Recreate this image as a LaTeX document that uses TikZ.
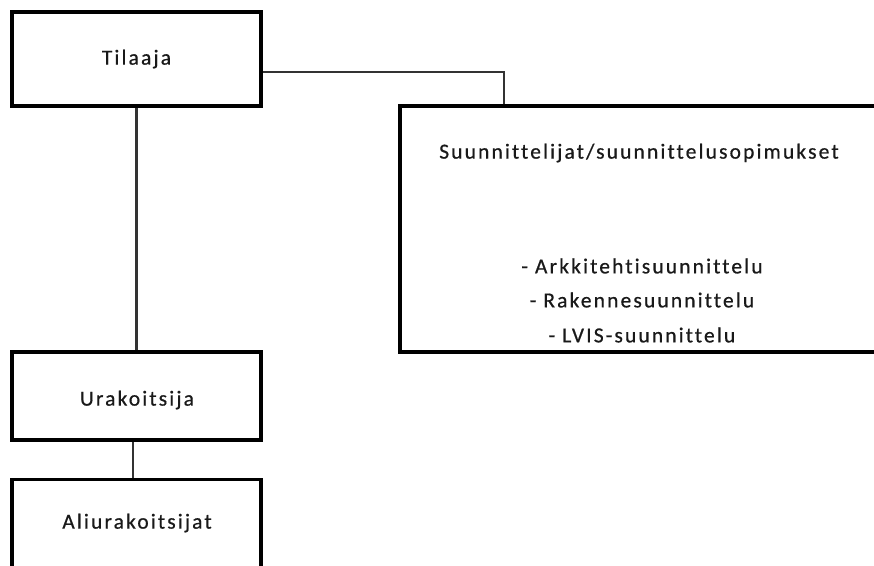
\documentclass[tikz,border=0pt]{standalone}
\usepackage{fontspec}
\setmainfont{Carlito}[LetterSpace=10,Ligatures={NoCommon},FakeBold=0.6]
\begin{document}
\begin{tikzpicture}[x=1pt,y=-1pt,
  box/.style={draw=black,line width=3.6pt,fill=white,inner sep=0pt},
  conn/.style={draw=black!80,line width=2.6pt},
  lbl/.style={inner sep=0pt,font=\fontsize{21.5}{26}\selectfont,text=black!90}]
\useasboundingbox (0,0) rectangle (874,565);
\clip (0,0) rectangle (874,565);
\node[box,minimum width=249pt,minimum height=94pt] (til) at (136.5,59) {};
\node[lbl] (tilt) at (til.center) {Tilaaja};
\node[box,minimum width=490pt,minimum height=246pt] (suu) at (645,229) {};
\node[lbl] (suut) at (639,153) {Suunnittelijat/suunnittelusopimukset};
\node[lbl] (ark) at (642,266) {- Arkkitehtisuunnittelu};
\node[lbl] (rak) at (642,300) {- Rakennesuunnittelu};
\node[lbl] (lvi) at (642,335) {- LVIS-suunnittelu};
\node[box,minimum width=249pt,minimum height=88pt] (ura) at (136.5,396) {};
\node[lbl] (urat) at (137,400) {Urakoitsija};
\node[box,minimum width=249pt,minimum height=95pt] (ali) at (136.5,527) {};
\node[lbl] (alit) at (137,523) {Aliurakoitsijat};
\draw[conn] ([yshift=-13pt]til.east) -| ([xshift=-141pt]suu.north);
\draw[conn] (til.south) -- (ura.north);
\draw[conn] ([xshift=-3.5pt]ura.south) -- ([xshift=-3.5pt]ali.north);
\end{tikzpicture}
\end{document}
